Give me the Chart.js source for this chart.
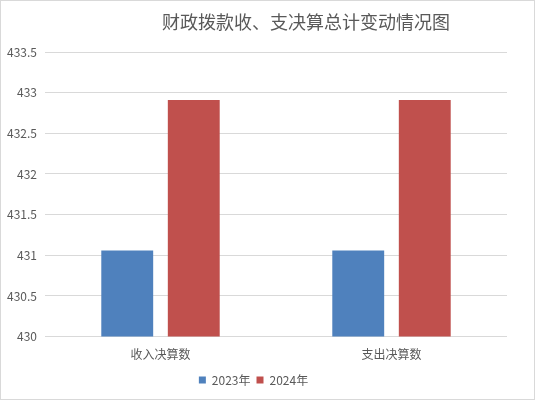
<!DOCTYPE html>
<html>
<head>
<meta charset="utf-8">
<script src="https://cdn.jsdelivr.net/npm/chart.js@4"></script>
<style>
  body { margin: 0; background: #fff; }
  #wrap { width: 536px; height: 402px; }
</style>
</head>
<body>
<div id="wrap"><canvas id="chart" width="536" height="402"></canvas></div>
<script>
const categories = ["收入决算数", "支出决算数"];
const values2023 = [431.06, 431.06];
const values2024 = [432.91, 432.91];
const titleText = "财政拨款收、支决算总计变动情况图";
const fontFam = "'Noto Sans CJK SC', 'Microsoft YaHei', sans-serif";

// title drawn off-centre like the original, plus the thin frame
const frame = {
  id: "frame",
  afterDraw(chart) {
    const ctx = chart.ctx;
    ctx.save();
    ctx.strokeStyle = "#d9d9d9";
    ctx.lineWidth = 1;
    ctx.strokeRect(0.5, 0.5, 534, 399);
    ctx.fillStyle = "#595959";
    ctx.font = "18px " + fontFam;
    ctx.textAlign = "center";
    ctx.textBaseline = "middle";
    ctx.fillText(titleText, 306, 22);
    ctx.restore();
  },
};

window.onload = function () {
  new Chart(document.getElementById("chart"), {
    type: "bar",
    data: {
      labels: categories,
      datasets: [
        { label: "2023年", data: values2023, backgroundColor: "#4f81bd" },
        { label: "2024年", data: values2024, backgroundColor: "#c0504d" },
      ],
    },
    options: {
      responsive: false,
      animation: false,
      categoryPercentage: 0.576,
      barPercentage: 0.78,
      layout: { padding: { top: 52, right: 29, left: 0, bottom: 6 } },
      plugins: {
        title: { display: false },
        tooltip: { enabled: false },
        legend: {
          position: "bottom",
          labels: {
            boxWidth: 7,
            boxHeight: 7,
            padding: 6,
            color: "#595959",
            font: { family: fontFam, size: 12 },
          },
        },
      },
      scales: {
        x: {
          afterFit: (s) => { s.height += 3; },
          grid: { display: false },
          border: { display: false },
          ticks: { color: "#595959", padding: 3, font: { family: fontFam, size: 12 } },
        },
        y: {
          min: 430,
          max: 433.5,
          afterFit: (s) => { s.width = 45; },
          grid: { color: "#d9d9d9", drawTicks: false },
          border: { display: false },
          ticks: {
            stepSize: 0.5,
            padding: 8,
            color: "#595959",
            font: { family: fontFam, size: 12 },
            callback: (v) => String(v),
          },
        },
      },
    },
    plugins: [frame],
  });
};
</script>
</body>
</html>
